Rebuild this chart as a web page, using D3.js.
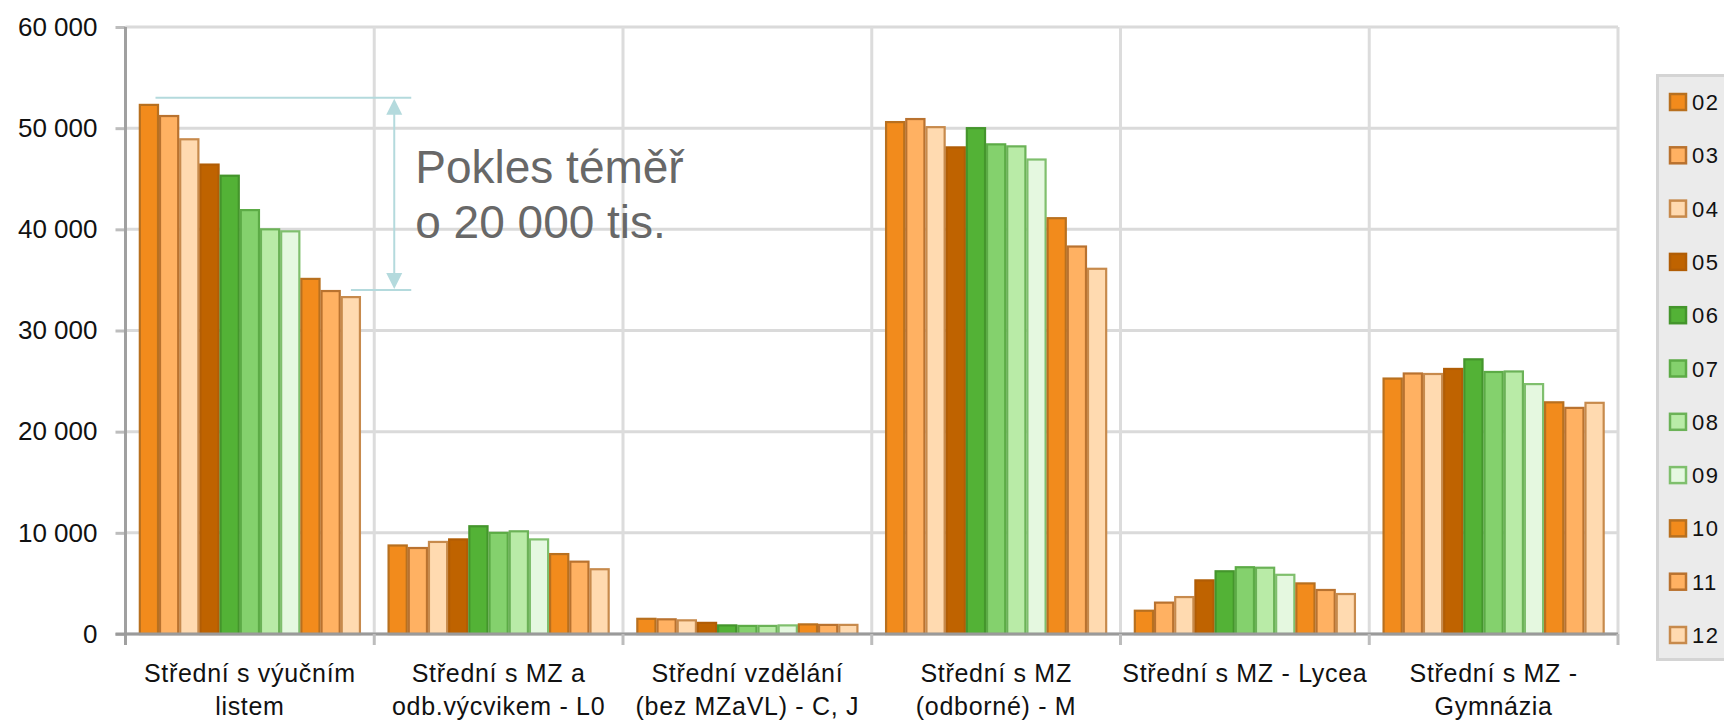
<!DOCTYPE html>
<html>
<head>
<meta charset="utf-8">
<script src="https://cdn.jsdelivr.net/npm/d3@7"></script>
<style>
  html, body { margin: 0; padding: 0; background: #fff; }
  svg { display: block; }
  text { font-family: "Liberation Sans", Arial, sans-serif; }
</style>
</head>
<body>
<svg id="chart" width="1724" height="720"></svg>
<script>
// ---- data ----
const categories = [
  ["Střední s výučním", "listem"],
  ["Střední s MZ a", "odb.výcvikem - L0"],
  ["Střední vzdělání", "(bez MZaVL) - C, J"],
  ["Střední s MZ", "(odborné) - M"],
  ["Střední s MZ - Lycea"],
  ["Střední s MZ -", "Gymnázia"]
];
const seriesNames = ["02", "03", "04", "05", "06", "07", "08", "09", "10", "11", "12"];
const s02 = [52400, 8850, 1600, 50700, 2400, 25350];
const s03 = [51300, 8600, 1550, 51000, 3200, 25850];
const s04 = [49000, 9200, 1450, 50200, 3750, 25800];
const s05 = [46500, 9450, 1200, 48200, 5400, 26300];
const s06 = [45400, 10750, 950, 50100, 6300, 27250];
const s07 = [42000, 10100, 900, 48500, 6700, 26000];
const s08 = [40100, 10250, 900, 48300, 6650, 26050];
const s09 = [39900, 9450, 950, 47000, 5950, 24800];
const s10 = [35200, 8000, 1050, 41200, 5100, 23000];
const s11 = [34000, 7250, 1000, 38400, 4450, 22450];
const s12 = [33400, 6500, 1000, 36200, 4050, 22950];
const seriesValues = [s02, s03, s04, s05, s06, s07, s08, s09, s10, s11, s12];
const yTicks = [0, 10000, 20000, 30000, 40000, 50000, 60000];
const yTickLabels = ["0", "10 000", "20 000", "30 000", "40 000", "50 000", "60 000"];
const annotationLines = ["Pokles téměř", "o 20 000 tis."];
const annotationTop = 53000;
const annotationBottom = 34000;

// ---- styles ----
const fills = ["#f28b1c", "#ffb162", "#ffdab0", "#bf6300", "#53b236", "#84d16d", "#b9eba7", "#e5f8e0", "#f28b1c", "#ffb162", "#ffdab0"];
const strokes = ["#b8701f", "#b9722f", "#c78a4c", "#b15d05", "#44952c", "#5cab46", "#6bb257", "#7fbf6d", "#b8701f", "#b9722f", "#c78a4c"];

const svg = d3.select("#chart");
const pL = 125.5, pR = 1618, pT = 27, pB = 634;

const x0 = d3.scaleBand().domain(d3.range(categories.length)).range([pL, pR]).padding(0);
const x1 = d3.scaleBand().domain(seriesNames).range([0, x0.bandwidth()]).paddingInner(0).paddingOuter(0.66);
const y = d3.scaleLinear().domain([0, 60000]).range([pB, pT]);

// horizontal gridlines
svg.append("g").selectAll("line").data(yTicks).join("line")
  .attr("x1", pL).attr("x2", pR)
  .attr("y1", d => y(d)).attr("y2", d => y(d))
  .attr("stroke", "#dadada").attr("stroke-width", 3);

// vertical gridlines at category boundaries
const bounds = d3.range(categories.length + 1).map(i => i < categories.length ? x0(i) : pR);
svg.append("g").selectAll("line").data(bounds.slice(1)).join("line")
  .attr("x1", d => d).attr("x2", d => d)
  .attr("y1", pT).attr("y2", pB)
  .attr("stroke", "#dcdcdc").attr("stroke-width", 3);

// bars
const groups = svg.append("g").selectAll("g").data(seriesNames).join("g");
groups.each(function(name, si) {
  d3.select(this).selectAll("rect").data(seriesValues[si]).join("rect")
    .attr("x", (d, ci) => x0(ci) + x1(name) + 1)
    .attr("width", x1.bandwidth() - 2)
    .attr("y", d => y(d) + 1)
    .attr("height", d => pB - y(d) - 1)
    .attr("fill", fills[si])
    .attr("stroke", strokes[si])
    .attr("stroke-width", 2.2);
});

// y axis
const yAxis = d3.axisLeft(y).tickValues(yTicks).tickSize(10).tickPadding(18)
  .tickFormat((d, i) => yTickLabels[i]);
const gy = svg.append("g").attr("transform", `translate(${pL},0)`).call(yAxis);
gy.select(".domain").remove();
gy.selectAll(".tick line").attr("stroke", "#bdbdbd").attr("stroke-width", 3);
gy.selectAll(".tick text").attr("font-size", 26).attr("fill", "#111")
  .attr("font-family", "'Liberation Sans', Arial, sans-serif");
svg.append("line").attr("x1", pL).attr("x2", pL).attr("y1", pT).attr("y2", pB + 11)
  .attr("stroke", "#a0a0a0").attr("stroke-width", 3);

// x axis
svg.append("line").attr("x1", pL - 10).attr("x2", pR).attr("y1", pB).attr("y2", pB)
  .attr("stroke", "#9a9a9a").attr("stroke-width", 3);
svg.append("g").selectAll("line").data(bounds.slice(1)).join("line")
  .attr("x1", d => d).attr("x2", d => d).attr("y1", pB).attr("y2", pB + 11)
  .attr("stroke", "#bdbdbd").attr("stroke-width", 3);

const xl = svg.append("g").selectAll("text").data(categories).join("text")
  .attr("x", (d, i) => x0(i) + x0.bandwidth() / 2)
  .attr("y", 682)
  .attr("text-anchor", "middle")
  .attr("font-size", 25)
  .attr("letter-spacing", 0.7)
  .attr("fill", "#111");
xl.each(function(lines) {
  const t = d3.select(this);
  t.selectAll("tspan").data(lines).join("tspan")
    .attr("x", t.attr("x"))
    .attr("dy", (d, i) => i === 0 ? 0 : 33)
    .text(d => d);
});

// annotation
const ac = "#b4dadd";
const ax = x0(1) + 20;
const yt = y(annotationTop), yb = y(annotationBottom);
svg.append("line").attr("x1", x0(0) + 30).attr("x2", ax + 17).attr("y1", yt).attr("y2", yt)
  .attr("stroke", ac).attr("stroke-width", 2);
svg.append("line").attr("x1", x0(0) + x1("12") + x1.bandwidth() - 10).attr("x2", ax + 17).attr("y1", yb).attr("y2", yb)
  .attr("stroke", ac).attr("stroke-width", 2);
svg.append("line").attr("x1", ax).attr("x2", ax).attr("y1", yt + 14).attr("y2", yb - 14)
  .attr("stroke", ac).attr("stroke-width", 2);
svg.append("path").attr("d", `M${ax},${yt + 1} L${ax - 8},${yt + 17} L${ax + 8},${yt + 17} Z`).attr("fill", ac);
svg.append("path").attr("d", `M${ax},${yb - 1} L${ax - 8},${yb - 17} L${ax + 8},${yb - 17} Z`).attr("fill", ac);
svg.append("g").selectAll("text").data(annotationLines).join("text")
  .attr("x", ax + 21)
  .attr("y", (d, i) => 183 + i * 55)
  .attr("font-size", 46)
  .attr("fill", "#686868")
  .text(d => d);

// legend
const lg = svg.append("g");
lg.append("rect").attr("x", 1657.5).attr("y", 75.5).attr("width", 100).attr("height", 584)
  .attr("fill", "#ebebeb").attr("stroke", "#d4d4d4").attr("stroke-width", 3);
const ly = d3.scalePoint().domain(seriesNames).range([102, 635]);
const li = lg.selectAll("g.item").data(seriesNames).join("g").attr("class", "item")
  .attr("transform", d => `translate(0,${ly(d)})`);
li.append("rect").attr("x", 1670).attr("y", -8).attr("width", 16).attr("height", 16)
  .attr("fill", (d, i) => fills[i]).attr("stroke", (d, i) => strokes[i]).attr("stroke-width", 2.5);
li.append("text").attr("x", 1692).attr("y", 8).attr("font-size", 22).attr("fill", "#111")
  .attr("letter-spacing", 1.5)
  .text(d => d);
</script>
</body>
</html>
